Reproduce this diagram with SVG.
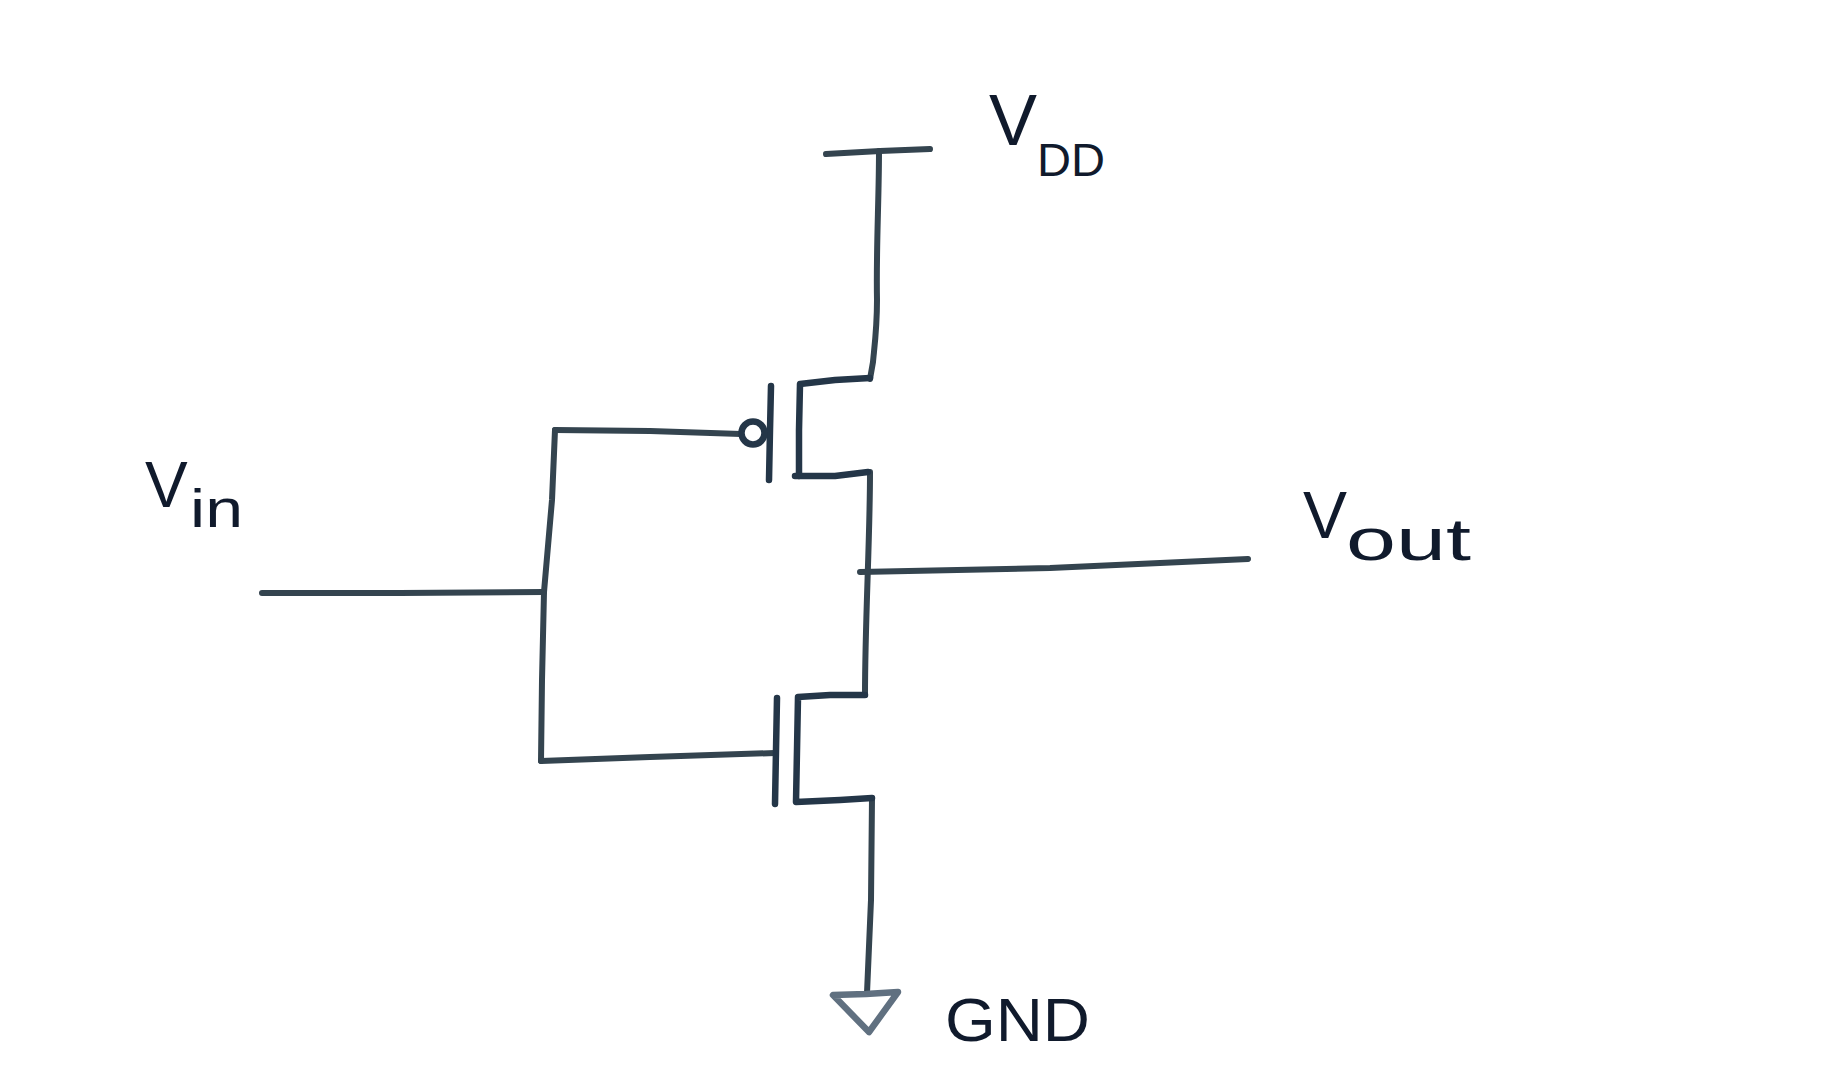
<svg xmlns="http://www.w3.org/2000/svg" width="1838" height="1078" viewBox="0 0 1838 1078">
<style>
.w{fill:none;stroke:#34444f;stroke-width:6;stroke-linecap:round;stroke-linejoin:round}
.g{fill:none;stroke:#607080;stroke-width:6.5;stroke-linecap:round;stroke-linejoin:round}
.d{fill:none;stroke:#243648;stroke-width:6.5;stroke-linecap:round;stroke-linejoin:round}
.t{font-family:"Liberation Sans",Arial,sans-serif;fill:#101a2c}
</style>
<rect width="1838" height="1078" fill="#ffffff"/>
<g id="connectors">
<path class="w" d="M879 151C879 200 876 250 877 300C877 330 874 350 873 362L870 379"/>
<path class="w" d="M262 593L400 593L544 592"/>
<path class="w" d="M555 430L552 500L544 592L542 680L541 761"/>
<path class="w" d="M555 430L650 431L741 434"/>
<path class="w" d="M541 761L650 757L775 753"/>
<path class="w" d="M870 472C870 540 865 620 865 695"/>
<path class="w" d="M860 572L1050 568L1248 559"/>
<path class="w" d="M872 798L871 900L867 993"/>
</g>
<g id="vdd">
<path class="w" d="M826 154L880 151L930 149"/>
<text class="t" font-size="72" x="989" y="145">V<tspan font-size="46" x="1037" y="176" textLength="68" lengthAdjust="spacingAndGlyphs">DD</tspan></text>
</g>
<g id="pmos">
<path class="d" d="M771 386L770 430L769 480"/>
<circle class="d" cx="753" cy="433" r="11.5"/>
<path class="d" d="M870 378L835 380L800 384L799 430L799 476"/>
<path class="d" d="M795 476L835 476L868 472"/>
</g>
<g id="nmos">
<path class="d" d="M777 698L776 750L775 804"/>
<path class="d" d="M865 695L830 695L798 697L797 750L796 802L840 800L872 798"/>
</g>
<g id="vin">
<text class="t" font-size="64" x="145" y="507">V<tspan font-size="54" x="190" y="527" textLength="53" lengthAdjust="spacingAndGlyphs">in</tspan></text>
</g>
<g id="vout">
<text class="t" font-size="66" x="1303" y="538">V<tspan font-size="60" x="1346" y="560" textLength="125" lengthAdjust="spacingAndGlyphs">out</tspan></text>
</g>
<g id="gnd">
<path class="g" d="M833 995L866 994L898 992L869 1032Z"/>
<text class="t" font-size="62" x="945" y="1041" textLength="145" lengthAdjust="spacingAndGlyphs">GND</text>
</g>
</svg>
